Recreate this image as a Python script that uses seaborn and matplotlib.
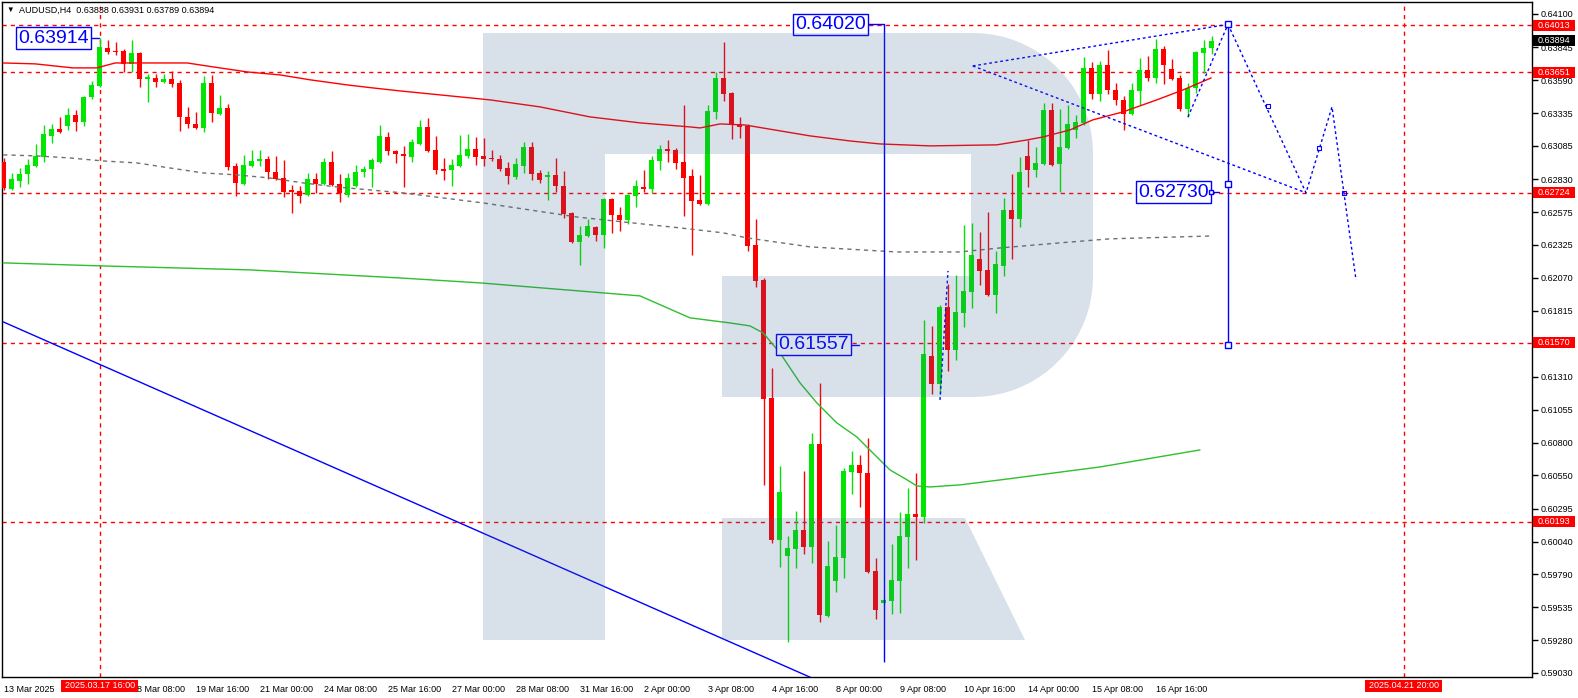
import numpy as np
import seaborn as sns
import matplotlib.pyplot as plt
import matplotlib.transforms as mtransforms
from matplotlib.patches import Polygon, Rectangle

# AUDUSD H4, one candle per 4h, index 0 = 13 Mar 16:00
opens = [0.62962, 0.62754, 0.62815, 0.62869, 0.62931, 0.63000, 0.63162, 0.63216, 0.63239, 0.63324,
         0.63270, 0.63462, 0.63547, 0.63838, 0.63815, 0.63815, 0.63716, 0.63800, 0.63600, 0.63608,
         0.63577, 0.63600, 0.63570, 0.63308, 0.63254, 0.63223, 0.63570, 0.63331, 0.63377, 0.62931,
         0.62792, 0.62931, 0.62969, 0.62985, 0.62885, 0.62838, 0.62746, 0.62738, 0.62708, 0.62831,
         0.62792, 0.62962, 0.62792, 0.62708, 0.62777, 0.62885, 0.62908, 0.62962, 0.63154, 0.63046,
         0.63023, 0.63000, 0.63100, 0.63231, 0.63054, 0.62908, 0.62900, 0.62931, 0.63008, 0.63062,
         0.63008, 0.62992, 0.62985, 0.62915, 0.62846, 0.62931, 0.63077, 0.62877, 0.62846, 0.62862,
         0.62777, 0.62569, 0.62346, 0.62392, 0.62462, 0.62400, 0.62677, 0.62554, 0.62516, 0.62700,
         0.62769, 0.62754, 0.62969, 0.63062, 0.63054, 0.62962, 0.62854, 0.62669, 0.62639, 0.63347,
         0.63608, 0.63493, 0.63254, 0.63239, 0.62323, 0.62054, 0.61146, 0.60054, 0.59931, 0.59985,
         0.60131, 0.60000, 0.60793, 0.59469, 0.59739, 0.59915, 0.60577, 0.60631, 0.60569, 0.59815,
         0.59569, 0.59585, 0.59739, 0.60077, 0.60254, 0.60231, 0.61469, 0.61254, 0.61846, 0.61515,
         0.61800, 0.61962, 0.62216, 0.62131, 0.61939, 0.62162, 0.62592, 0.62523, 0.63008, 0.62900,
         0.62946, 0.63362, 0.62946, 0.63069, 0.63208, 0.63262, 0.63685, 0.63485, 0.63708, 0.63516,
         0.63439, 0.63331, 0.63508, 0.63670, 0.63608, 0.63831, 0.63677, 0.63608, 0.63370, 0.63531,
         0.63800, 0.63838]
highs = [0.62992, 0.62877, 0.62915, 0.62985, 0.63100, 0.63246, 0.63254, 0.63308, 0.63377, 0.63362,
         0.63470, 0.63585, 0.63914, 0.63900, 0.63885, 0.63831, 0.63900, 0.63808, 0.63639, 0.63639,
         0.63639, 0.63662, 0.63593, 0.63385, 0.63347, 0.63623, 0.63631, 0.63477, 0.63408, 0.62954,
         0.63016, 0.63054, 0.63054, 0.63008, 0.63008, 0.62977, 0.62785, 0.62777, 0.62877, 0.62877,
         0.62992, 0.63046, 0.62869, 0.62877, 0.62938, 0.62931, 0.62992, 0.63246, 0.63192, 0.63054,
         0.63085, 0.63139, 0.63285, 0.63300, 0.63162, 0.62992, 0.62985, 0.63169, 0.63177, 0.63154,
         0.63146, 0.63054, 0.63016, 0.62962, 0.62992, 0.63116, 0.63116, 0.62900, 0.62892, 0.62992,
         0.62892, 0.62577, 0.62469, 0.62523, 0.62469, 0.62685, 0.62685, 0.62615, 0.62715, 0.62823,
         0.62900, 0.63008, 0.63093, 0.63131, 0.63069, 0.63400, 0.62908, 0.62862, 0.63400, 0.63654,
         0.63885, 0.63500, 0.63308, 0.63254, 0.62523, 0.62069, 0.61377, 0.60623, 0.60085, 0.60277,
         0.60585, 0.60877, 0.61262, 0.60046, 0.60169, 0.60608, 0.60739, 0.60708, 0.60838, 0.59915,
         0.59600, 0.60023, 0.60269, 0.60454, 0.60569, 0.61746, 0.61700, 0.61862, 0.62023, 0.62092,
         0.62477, 0.62493, 0.62423, 0.62577, 0.62277, 0.62685, 0.62869, 0.63000, 0.63131, 0.63077,
         0.63416, 0.63416, 0.63370, 0.63400, 0.63324, 0.63770, 0.63731, 0.63739, 0.63823, 0.63570,
         0.63470, 0.63570, 0.63762, 0.63777, 0.63908, 0.63854, 0.63754, 0.63631, 0.63570, 0.63815,
         0.63900, 0.63931]
lows = [0.62746, 0.62746, 0.62769, 0.62792, 0.62923, 0.62962, 0.63108, 0.63185, 0.63208, 0.63200,
        0.63239, 0.63446, 0.63540, 0.63792, 0.63785, 0.63654, 0.63654, 0.63539, 0.63423, 0.63539,
        0.63570, 0.63539, 0.63200, 0.63223, 0.63216, 0.63192, 0.63270, 0.63324, 0.62900, 0.62700,
        0.62785, 0.62923, 0.62931, 0.62831, 0.62823, 0.62692, 0.62569, 0.62646, 0.62700, 0.62723,
        0.62785, 0.62777, 0.62654, 0.62692, 0.62769, 0.62846, 0.62769, 0.62954, 0.63016, 0.62954,
        0.62769, 0.62962, 0.63093, 0.63039, 0.62869, 0.62823, 0.62777, 0.62923, 0.62992, 0.62938,
        0.62931, 0.62969, 0.62892, 0.62792, 0.62831, 0.62877, 0.62823, 0.62800, 0.62669, 0.62731,
        0.62531, 0.62339, 0.62169, 0.62385, 0.62354, 0.62300, 0.62416, 0.62431, 0.62485, 0.62615,
        0.62731, 0.62723, 0.62900, 0.62962, 0.62908, 0.62546, 0.62246, 0.62631, 0.62631, 0.63293,
        0.63431, 0.63139, 0.63146, 0.62277, 0.62000, 0.60477, 0.60031, 0.59846, 0.59269, 0.59839,
        0.59946, 0.59877, 0.59423, 0.59462, 0.59654, 0.59762, 0.60408, 0.60308, 0.59800, 0.59446,
        0.59561, 0.59485, 0.59492, 0.59839, 0.59900, 0.60185, 0.61177, 0.61177, 0.61354, 0.61438,
        0.61692, 0.61838, 0.62016, 0.61931, 0.61800, 0.62085, 0.62216, 0.62462, 0.62769, 0.62846,
        0.62938, 0.62931, 0.62731, 0.63062, 0.63146, 0.63246, 0.63446, 0.63431, 0.63485, 0.63400,
        0.63208, 0.63324, 0.63400, 0.63585, 0.63570, 0.63562, 0.63593, 0.63354, 0.63308, 0.63493,
        0.63646, 0.63789]
closes = [0.62761, 0.62831, 0.62869, 0.62938, 0.63008, 0.63177, 0.63216, 0.63192, 0.63324, 0.63270,
          0.63462, 0.63554, 0.63846, 0.63808, 0.63808, 0.63716, 0.63800, 0.63600, 0.63616, 0.63577,
          0.63600, 0.63562, 0.63308, 0.63254, 0.63223, 0.63570, 0.63339, 0.63377, 0.62923, 0.62800,
          0.62938, 0.62969, 0.62985, 0.62885, 0.62831, 0.62731, 0.62731, 0.62700, 0.62831, 0.62792,
          0.62962, 0.62785, 0.62723, 0.62838, 0.62885, 0.62908, 0.62977, 0.63162, 0.63046, 0.63023,
          0.63008, 0.63116, 0.63231, 0.63046, 0.62900, 0.62892, 0.62938, 0.63016, 0.63062, 0.63000,
          0.62985, 0.62985, 0.62908, 0.62854, 0.62946, 0.63077, 0.62869, 0.62823, 0.62862, 0.62777,
          0.62561, 0.62346, 0.62400, 0.62469, 0.62400, 0.62677, 0.62554, 0.62516, 0.62708, 0.62777,
          0.62754, 0.62977, 0.63062, 0.63046, 0.62954, 0.62838, 0.62662, 0.62639, 0.63354, 0.63608,
          0.63485, 0.63254, 0.63231, 0.62315, 0.62046, 0.61139, 0.60054, 0.60423, 0.59992, 0.60131,
          0.60000, 0.60793, 0.59477, 0.59854, 0.59923, 0.60585, 0.60631, 0.60569, 0.59808, 0.59515,
          0.59592, 0.59746, 0.60085, 0.60254, 0.60231, 0.61485, 0.61254, 0.61846, 0.61515, 0.61808,
          0.61969, 0.62246, 0.62123, 0.61939, 0.62177, 0.62592, 0.62523, 0.62885, 0.62900, 0.62954,
          0.63362, 0.62938, 0.63077, 0.63254, 0.63270, 0.63685, 0.63485, 0.63708, 0.63516, 0.63439,
          0.63331, 0.63516, 0.63670, 0.63608, 0.63831, 0.63708, 0.63600, 0.63370, 0.63531, 0.63808,
          0.63838, 0.63894]

# moving averages (candle index, price)
ma_red_x = [-0.1, 3.9, 8.6, 11.6, 13.9, 22.9, 26.1, 30.4, 34.5, 38.3, 42.9, 46.1, 49.5, 60.75, 67,
            73.25, 79.5, 85.75, 87, 89.5, 92.6, 100.75, 105.75, 109.5, 115.75, 124.1, 127.9, 129.9,
            133.25, 136.1, 139.9, 144.1, 147.4, 150.9]
ma_red_y = [0.63723, 0.63716, 0.63685, 0.63685, 0.63723, 0.63723, 0.63693, 0.63654, 0.63631, 0.63593,
            0.63554, 0.63531, 0.63508, 0.63439, 0.63385, 0.63308, 0.63262, 0.63231, 0.63223, 0.63254,
            0.63246, 0.63162, 0.63123, 0.63100, 0.63085, 0.63093, 0.63131, 0.63154, 0.63208, 0.63285,
            0.63347, 0.63439, 0.63516, 0.63608]
ma_grey_x = [-0.1, 4.1, 8.25, 12.4, 16.6, 20.75, 24.9, 29.1, 33.25, 37.4, 41.6, 45.75, 49.9, 59.9,
             65.75, 71.6, 77.4, 84.5, 89.9, 92.9, 100.75, 111.6, 119.5, 124.5, 132, 138.25, 147, 150.9]
ma_grey_y = [0.63016, 0.63008, 0.62992, 0.62969, 0.62954, 0.62915, 0.62877, 0.62862, 0.62838, 0.62800,
             0.62769, 0.62746, 0.62723, 0.62646, 0.62592, 0.62538, 0.62500, 0.62454, 0.62416, 0.62377,
             0.62308, 0.62269, 0.62269, 0.62300, 0.62339, 0.62370, 0.62385, 0.62392]
ma_green_x = [-0.1, 12, 30.75, 49.5, 59.5, 79.5, 85.75, 90.75, 93.25, 94.9, 97, 99.5, 101.6, 104.1,
              106.6, 108.6, 110.75, 112.9, 114.1, 115.75, 119.5, 124.5, 137, 149.5]
ma_green_y = [0.62185, 0.62162, 0.62131, 0.62069, 0.62031, 0.61931, 0.61762, 0.61723, 0.61700, 0.61646,
              0.61492, 0.61262, 0.61108, 0.60954, 0.60846, 0.60723, 0.60592, 0.60515, 0.60469, 0.60461,
              0.60477, 0.60515, 0.60615, 0.60746]

# drawn objects
trend_x = [-0.1, 101]
trend_y = [0.61731, 0.58991]
levels = [0.64013, 0.63651, 0.62724, 0.61570, 0.60193]
last_price = 0.63894
tri_upper_x, tri_upper_y = [121.1, 153], [0.63700, 0.64020]
tri_lower_x, tri_lower_y = [121.1, 162.75], [0.63700, 0.62724]
wedge_x, wedge_y = [148, 153], [0.63308, 0.64020]
spike_x, spike_y = [117, 118], [0.61131, 0.62123]
proj_x = [153, 162.75, 166, 169]
proj_y = [0.64020, 0.62724, 0.63385, 0.62054]
proj_mark_x = [158, 164.4, 167.5]
proj_mark_y = [0.63393, 0.63069, 0.62723]
meas_left = (110, 0.59115, 0.64020)
meas_right = (153, 0.61557, 0.64020)

yticks = [0.64100, 0.63845, 0.63590, 0.63335, 0.63085, 0.62830, 0.62575, 0.62325, 0.62070, 0.61815,
          0.61560, 0.61310, 0.61055, 0.60800, 0.60550, 0.60295, 0.60040, 0.59790, 0.59535, 0.59280,
          0.59030]
xtick_pos = list(range(0, 152, 8))
# the 17 Mar 00:00 label sits under the red date tag, so it is left blank
xtick_labels = ["13 Mar 2025", "", "18 Mar 08:00", "19 Mar 16:00", "21 Mar 00:00",
                "24 Mar 08:00", "25 Mar 16:00", "27 Mar 00:00", "28 Mar 08:00", "31 Mar 16:00",
                "2 Apr 00:00", "3 Apr 08:00", "4 Apr 16:00", "8 Apr 00:00", "9 Apr 08:00",
                "10 Apr 16:00", "14 Apr 00:00", "15 Apr 08:00", "16 Apr 16:00"]
vlines_idx = [12, 175]
vlines_lbl = ["2025.03.17 16:00", "2025.04.21 20:00"]

sns.set_style("white")
plt.rcParams['font.family'] = ['Liberation Sans', 'DejaVu Sans']

W, H = 1578, 698
fig = plt.figure(figsize=(W / 100, H / 100), dpi=100)
ax = fig.add_axes([2 / W, 21 / H, 1530 / W, 675 / H])
ax.set_xlim(-0.25, 191)
ax.set_ylim(0.58999, 0.64192)
PX = (0.64192 - 0.58999) / 675  # price per pixel

RED, GREEN, BLUE = '#ff0000', '#00e600', '#0000ff'

# horizontal / vertical dashed levels
for p in levels:
    ax.axhline(p, color=RED, lw=1, ls=(0, (3, 3)), zorder=1)
for v in vlines_idx:
    ax.axvline(v, color=RED, lw=1, ls=(0, (3, 3)), zorder=1)

# candles
idx = np.arange(len(opens))
o, h, l, c = map(np.array, (opens, highs, lows, closes))
cols = np.where(c >= o, GREEN, RED)
ax.vlines(idx, l, h, colors=cols, lw=1, zorder=3)
body_lo = np.minimum(o, c)
body_h = np.maximum(np.abs(c - o), PX)
ax.bar(idx, body_h, bottom=body_lo, width=0.625, color=cols, lw=0, zorder=3)

# moving averages
sns.lineplot(x=ma_red_x, y=ma_red_y, ax=ax, color=RED, lw=1.0, estimator=None, zorder=4)
sns.lineplot(x=ma_grey_x, y=ma_grey_y, ax=ax, color='#707070', lw=1.0, estimator=None,
             linestyle=(0, (3, 3)), zorder=4)
sns.lineplot(x=ma_green_x, y=ma_green_y, ax=ax, color='#2fbf2f', lw=1, estimator=None, zorder=4)

# blue drawings
ax.plot(trend_x, trend_y, color=BLUE, lw=1, zorder=4)
dot = (0, (2, 2))
for xs, ys in [(tri_upper_x, tri_upper_y), (tri_lower_x, tri_lower_y), (wedge_x, wedge_y),
               (spike_x, spike_y), (proj_x, proj_y)]:
    ax.plot(xs, ys, color=BLUE, lw=1, ls=dot, zorder=4)
ax.plot(proj_mark_x, proj_mark_y, ls='none', marker='s', ms=3, mfc='none', mec=BLUE, mew=0.8, zorder=4)
ax.vlines(meas_left[0], meas_left[1], meas_left[2], color=BLUE, lw=1, zorder=4)
ax.vlines(meas_right[0], meas_right[1], meas_right[2], color=BLUE, lw=1, zorder=4)
ax.plot([meas_right[0]] * 3, [meas_right[2], 0.62792, meas_right[1]], ls='none', marker='s', ms=4,
        mfc='white', mec=BLUE, mew=1, zorder=5)


def tag(x_right, y, txt, x_to):
    ax.text(x_right, y, txt, ha='right', va='center', fontsize=14, color=BLUE, zorder=5,
            bbox=dict(boxstyle='square,pad=0.12', fc='white', ec=BLUE, lw=1))
    ax.plot([x_right + 0.3, x_to], [y, y], color=BLUE, lw=1, zorder=4)


tag(10.6, highs[12], f"{highs[12]:.5f}", 11.9)
tag(107.75, meas_left[2], f"{meas_left[2]:.5f}", meas_left[0])
tag(105.6, meas_right[1], f"{meas_right[1]:.5f}", 106.9)
tag(150.6, 0.62730, "0.62730", 151.9)
ax.plot([150.9], [0.62730], marker='s', ms=3, mfc='white', mec=BLUE, zorder=5)

# watermark logo, drawn in reference pixel coordinates
pix = mtransforms.Affine2D().translate(-2, -677).scale(1 / 1530, -1 / 675) + ax.transAxes
t1 = np.linspace(np.pi / 2, 0, 20)
t2 = np.linspace(0, -np.pi / 2, 20)
bowl = [(971, 33)] + [(973 + 120 * np.cos(t), 153 - 120 * np.sin(t)) for t in t1] \
       + [(973 + 120 * np.cos(t), 277 - 120 * np.sin(t)) for t in t2] + [(971, 397)]
logo_parts = [
    [(483, 33), (605, 33), (605, 640), (483, 640)],
    [(605, 33), (971, 33), (971, 154), (605, 154)],
    [(722, 276), (971, 276), (971, 397), (722, 397)],
    bowl,
    [(722, 518), (965, 518), (1025, 640), (722, 640)],
]
for pts in logo_parts:
    ax.add_patch(Polygon(pts, closed=True, transform=pix, fc='#3c6496', alpha=0.2, lw=0, zorder=6))

# axes styling
for s in ax.spines.values():
    s.set_color('black')
    s.set_linewidth(1)
ax.yaxis.tick_right()
ax.set_yticks(yticks)
ax.set_yticklabels([f"{v:.5f}" for v in yticks])
ax.set_xticks(xtick_pos)
ax.set_xticklabels(xtick_labels)
for lbl in ax.get_xticklabels():
    lbl.set_ha('left')
ax.tick_params(axis='y', direction='out', length=4, width=1, pad=2, labelsize=6.5, colors='black')
ax.tick_params(axis='x', direction='out', length=4, width=1, pad=1.5, labelsize=6.5, colors='black')

# price tags on the right axis
ytr = ax.get_yaxis_transform()
for p, fc in [(v, RED) for v in levels] + [(last_price, 'black')]:
    ax.add_patch(Rectangle((1.0008, p - 5.5 * PX), 42 / 1530, 11 * PX, transform=ytr, fc=fc,
                           lw=0, clip_on=False, zorder=7))
    ax.text(1.0008 + 21 / 1530, p, f"{p:.5f}", transform=ytr, ha='center', va='center',
            fontsize=6.5, color='white', zorder=8, clip_on=False)

# date tags under the vertical lines
xtr = ax.get_xaxis_transform()
for v, txt in zip(vlines_idx, vlines_lbl):
    ax.add_patch(Rectangle((v - 38.5 / 8, -15 / 675), 77 / 8, 12 / 675, transform=xtr, fc=RED,
                           lw=0, clip_on=False, zorder=7))
    ax.text(v, -9 / 675, txt, transform=xtr, ha='center', va='center', fontsize=6.5,
            color='white', zorder=8, clip_on=False)

# header
fig.text(6 / W, 1 - 10 / H, "\u25bc", fontsize=5.5, va='center', ha='left', color='black')
fig.text(19 / W, 1 - 10 / H, f"AUDUSD,H4  {opens[-1]:.5f} {highs[-1]:.5f} {lows[-1]:.5f} {closes[-1]:.5f}",
         fontsize=6.5, va='center', ha='left', color='black')

fig.savefig('out.png', dpi=100)
